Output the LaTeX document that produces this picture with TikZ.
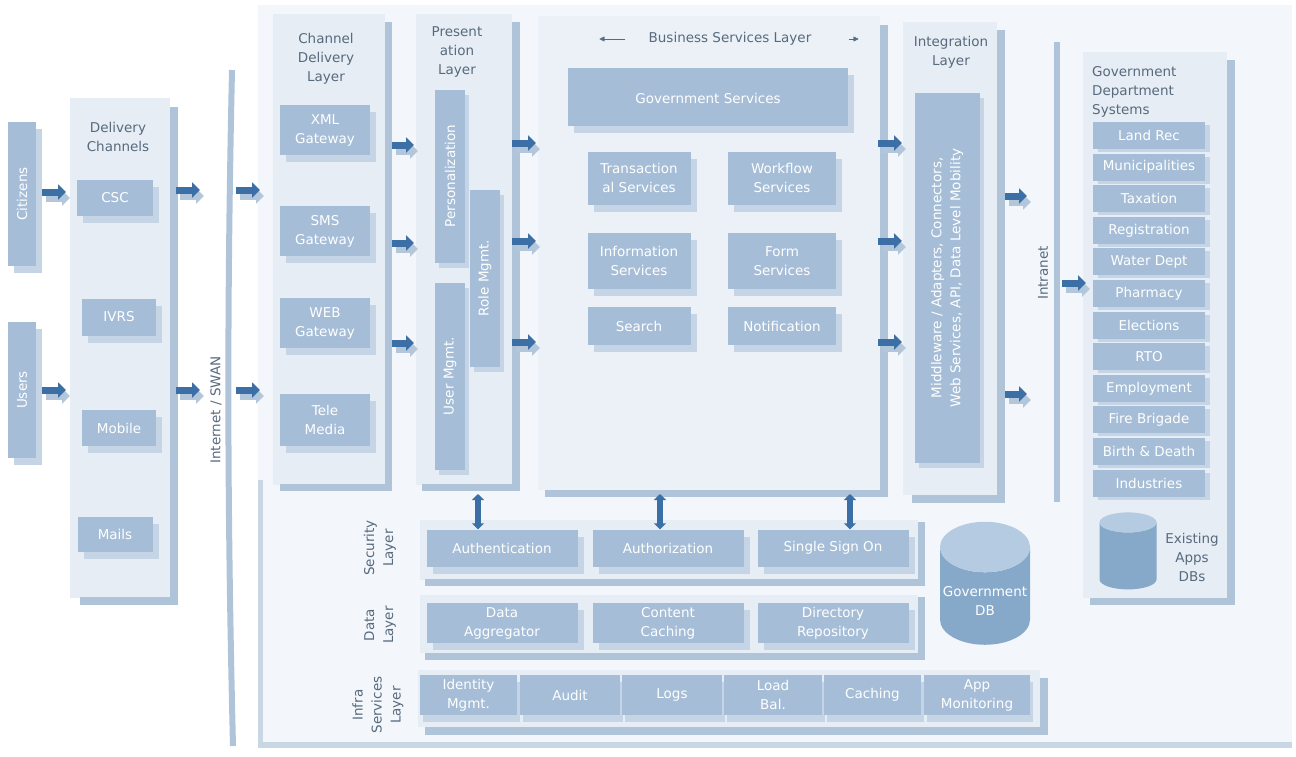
\documentclass[tikz,border=0pt]{standalone}
\usepackage{fontspec}
\setmainfont{DejaVu Sans}
\usetikzlibrary{shapes.geometric,shadows,arrows.meta}
\definecolor{bgc}{HTML}{F3F6FA}
\definecolor{panelc}{HTML}{E6EDF4}
\definecolor{bizc}{HTML}{EBF1F7}
\definecolor{stripc}{HTML}{B0C4D9}
\definecolor{boxc}{HTML}{A5BDD6}
\definecolor{shc}{HTML}{C5D5E5}
\definecolor{arrc}{HTML}{3C6FA5}
\definecolor{arrsh}{HTML}{B4C7DA}
\definecolor{txtc}{HTML}{586A7E}
\definecolor{linec}{HTML}{C9D7E5}
\definecolor{dbbody}{HTML}{86A8C9}
\definecolor{dbtop}{HTML}{B4CBE1}
\newcommand{\blkconn}[2]{\draw[blksh] (#1) -- (#2); \draw[blkarr] (#1) -- (#2);}
\begin{document}
\begin{tikzpicture}[x=1pt,y=-1pt,
  every node/.style={font=\fontsize{13.5}{19}\selectfont},
  boxbase/.style={fill=boxc, draw=none, text=white, align=center, inner sep=1pt},
  box/.style={boxbase, general shadow={shadow xshift=6pt, shadow yshift=-7pt, fill=shc}},
  sbox/.style={boxbase, general shadow={shadow xshift=4pt, shadow yshift=-5pt, fill=shc}},
  panel/.style={fill=panelc},
  strip/.style={fill=stripc},
  hdr/.style={text=txtc, align=center, inner sep=1pt},
  blkarr/.style={draw=arrc, line width=7pt, -{Triangle[width=15pt,length=8pt]}},
  blksh/.style={draw=arrsh, line width=7pt, -{Triangle[width=15pt,length=8pt]}, transform canvas={shift={(4pt,-6pt)}}},
  dblarr/.style={draw=arrc, line width=6pt, {Triangle[width=12pt,length=6pt]}-{Triangle[width=12pt,length=6pt]}},
  db/.style={cylinder, shape border rotate=90, aspect=0.3, draw=none, cylinder uses custom fill, cylinder body fill=dbbody, cylinder end fill=dbtop, text=white, align=center, inner sep=0pt},
]
\useasboundingbox (0,0) rectangle (1296,756);
\fill[white] (0,0) rectangle (1296,756);
% big background
\fill[bgc] (258,5) rectangle (1292,748);
\fill[linec] (258,480) rectangle (263,748);
\fill[linec] (258,742) rectangle (1292,748);

% ---------- left users ----------
\node[box, minimum width=28pt, minimum height=144pt] (cit) at (22,194) {\rotatebox{90}{Citizens}};
\node[box, minimum width=28pt, minimum height=136pt] (usr) at (22,390) {\rotatebox{90}{Users}};

% ---------- Delivery channels ----------
\fill[panel] (70,98) rectangle (170,598);
\fill[strip] (170,107) rectangle (178,605);
\fill[strip] (80,597) rectangle (178,605);
\node[hdr] (dch) at (118,137) {Delivery\\Channels};
\node[box, minimum width=76pt, minimum height=36pt] (csc) at (115,198) {CSC};
\node[box, minimum width=74pt, minimum height=37pt] (ivrs) at (119,317) {IVRS};
\node[box, minimum width=74pt, minimum height=36pt] (mob) at (119,428) {Mobile};
\node[box, minimum width=75pt, minimum height=35pt] (mail) at (115,534) {Mails};

% ---------- Internet ----------
\draw[stripc, line width=6pt] (232,70) .. controls (227,300) and (227,500) .. (233,746);
\node[hdr, rotate=90] (inet) at (216,410) {Internet / SWAN};

% ---------- Channel delivery layer ----------
\fill[panel] (273,14) rectangle (385,485);
\fill[strip] (385,22) rectangle (392,491);
\fill[strip] (280,484) rectangle (392,491);
\node[hdr] (cdl) at (326,59) {Channel\\Delivery\\Layer};
\node[box, minimum width=90pt, minimum height=50pt] (xml) at (325,130) {XML\\Gateway};
\node[box, minimum width=90pt, minimum height=50pt] (sms) at (325,231) {SMS\\Gateway};
\node[box, minimum width=90pt, minimum height=50pt] (web) at (325,323) {WEB\\Gateway};
\node[box, minimum width=90pt, minimum height=52pt] (tele) at (325,420) {Tele\\Media};

% ---------- Presentation layer ----------
\fill[panel] (416,14) rectangle (512,485);
\fill[strip] (512,22) rectangle (520,491);
\fill[strip] (422,484) rectangle (520,491);
\node[hdr] (prl) at (457,52) {Present\\ation\\Layer};
\node[sbox, minimum width=30pt, minimum height=173pt] (pers) at (450,176) {\rotatebox{90}{Personalization}};
\node[sbox, minimum width=30pt, minimum height=177pt] (role) at (485,278) {\rotatebox{90}{Role Mgmt.}};
\node[sbox, minimum width=30pt, minimum height=187pt] (user) at (450,376) {\rotatebox{90}{User Mgmt.}};

% ---------- Business services layer ----------
\fill[bizc] (538,16) rectangle (880,490);
\fill[strip] (880,25) rectangle (888,497);
\fill[strip] (545,490) rectangle (888,497);
\node[hdr] (bsl) at (730,39) {Business Services Layer};
\draw[txtc, -{Triangle[width=5pt,length=5pt]}] ([xshift=-22pt]bsl.west) -- ([xshift=-48pt]bsl.west);
\draw[txtc, -{Triangle[width=5pt,length=5pt]}] ([xshift=36pt]bsl.east) -- ([xshift=46pt]bsl.east);
\node[box, minimum width=280pt, minimum height=58pt, anchor=north, text height=12pt] (gsv) at (708,68) {Government Services};
\node[box, minimum width=103pt, minimum height=53pt] (trs) at (639,178) {Transaction\\al Services};
\node[box, minimum width=108pt, minimum height=53pt] (wfs) at (782,178) {Workflow\\Services};
\node[box, minimum width=103pt, minimum height=56pt] (inf) at (639,261) {Information\\Services};
\node[box, minimum width=108pt, minimum height=56pt] (frm) at (782,261) {Form\\Services};
\node[box, minimum width=103pt, minimum height=38pt] (srch) at (639,326) {Search};
\node[box, minimum width=108pt, minimum height=38pt] (ntf) at (782,326) {Notification};

% ---------- Integration layer ----------
\fill[panel] (903,22) rectangle (997,495);
\fill[strip] (997,30) rectangle (1005,503);
\fill[strip] (912,495) rectangle (1005,503);
\node[hdr] (intl) at (951,52) {Integration\\Layer};
\node[sbox, minimum width=65pt, minimum height=370pt] (mw) at (947,278) {\rotatebox{90}{\begin{tabular}{@{}c@{}}Middleware / Adapters, Connectors,\\Web Services, API, Data Level Mobility\end{tabular}}};

% ---------- Intranet ----------
\draw[stripc, line width=6pt] (1057,42) -- (1057,502);
\node[hdr, rotate=90] (intr) at (1043,273) {Intranet};

% ---------- Government department systems ----------
\fill[panel] (1083,52) rectangle (1227,598);
\fill[strip] (1227,60) rectangle (1235,605);
\fill[strip] (1090,598) rectangle (1235,605);
\node[hdr, anchor=west, align=left] (gds) at (1091,92) {Government\\Department\\Systems};
\foreach \t [count=\i] in {Land Rec,Municipalities,Taxation,Registration,Water Dept,Pharmacy,Elections,RTO,Employment,Fire Brigade,Birth \& Death,Industries}
  \node[boxbase, general shadow={shadow xshift=5pt, shadow yshift=-3pt, fill=shc}, minimum width=112pt, minimum height=27pt] (g\i) at (1149,{135.5+31.6*(\i-1)}) {\t};
\node[db, aspect=0.6, minimum width=57pt, minimum height=77pt] (eadb) at (1128,556) {\phantom{Apps}};
\node[hdr] (eatx) at (1192,557) {Existing\\Apps\\DBs};

% ---------- Security / Data / Infra ----------
\node[hdr, rotate=90] (secl) at (380,548) {Security\\Layer};
\fill[panel] (420,520) rectangle (918,580);
\fill[strip] (918,522) rectangle (925,586);
\fill[strip] (425,579) rectangle (925,586);
\node[box, minimum width=151pt, minimum height=37pt] (auth) at (502,548) {Authentication};
\node[box, minimum width=151pt, minimum height=37pt] (authz) at (668,548) {Authorization};
\node[box, minimum width=151pt, minimum height=37pt] (sso) at (833,548) {Single Sign On};

\node[hdr, rotate=90] (datl) at (380,625) {Data\\Layer};
\fill[panel] (420,595) rectangle (918,653);
\fill[strip] (918,597) rectangle (925,660);
\fill[strip] (425,653) rectangle (925,660);
\node[box, minimum width=151pt, minimum height=40pt] (dagg) at (502,623) {Data\\Aggregator};
\node[box, minimum width=151pt, minimum height=40pt] (cont) at (668,623) {Content\\Caching};
\node[box, minimum width=151pt, minimum height=40pt] (dirr) at (833,623) {Directory\\Repository};

\node[hdr, rotate=90] (infl) at (378,705) {Infra\\Services\\Layer};
\fill[panel] (418,670) rectangle (1040,727);
\fill[strip] (1040,678) rectangle (1048,735);
\fill[strip] (425,727) rectangle (1048,735);
\node[boxbase, general shadow={shadow xshift=3pt, shadow yshift=-7pt, fill=shc}, minimum width=97pt, minimum height=40pt] (i1) at (468.5,695) {Identity\\Mgmt.};
\node[boxbase, general shadow={shadow xshift=3pt, shadow yshift=-7pt, fill=shc}, minimum width=100pt, minimum height=40pt] (i2) at (570,695) {Audit};
\node[boxbase, general shadow={shadow xshift=3pt, shadow yshift=-7pt, fill=shc}, minimum width=100pt, minimum height=40pt] (i3) at (672,695) {Logs};
\node[boxbase, general shadow={shadow xshift=3pt, shadow yshift=-7pt, fill=shc}, minimum width=98pt, minimum height=40pt] (i4) at (773,695) {Load\\Bal.};
\node[boxbase, general shadow={shadow xshift=3pt, shadow yshift=-7pt, fill=shc}, minimum width=97pt, minimum height=40pt] (i5) at (872.5,695) {Caching};
\node[boxbase, general shadow={shadow xshift=3pt, shadow yshift=-7pt, fill=shc}, minimum width=106pt, minimum height=40pt] (i6) at (977,695) {App\\Monitoring};

% Government DB
\node[db, aspect=0.6, minimum width=90pt, minimum height=123pt] (gdb) at (985,596) {\\Government\\DB};

% ---------- block arrows ----------
\coordinate (c1a) at (42,192);  \coordinate (c1b) at (66,192);
\coordinate (c2a) at (42,390);  \coordinate (c2b) at (66,390);
\coordinate (d1a) at (176,190); \coordinate (d1b) at (200,190);
\coordinate (d2a) at (176,390); \coordinate (d2b) at (200,390);
\coordinate (e1a) at (236,190); \coordinate (e1b) at (260,190);
\coordinate (e2a) at (236,390); \coordinate (e2b) at (260,390);
\blkconn{c1a}{c1b} \blkconn{c2a}{c2b}
\blkconn{d1a}{d1b} \blkconn{d2a}{d2b}
\blkconn{e1a}{e1b} \blkconn{e2a}{e2b}
\foreach \y [count=\k] in {145,243,343} {
  \coordinate (f\k a) at (392,\y); \coordinate (f\k b) at (414,\y);
  \blkconn{f\k a}{f\k b}
}
\foreach \y [count=\k] in {143,241,342} {
  \coordinate (h\k a) at (512,\y); \coordinate (h\k b) at (536,\y);
  \blkconn{h\k a}{h\k b}
  \coordinate (j\k a) at (878,\y); \coordinate (j\k b) at (902,\y);
  \blkconn{j\k a}{j\k b}
}
\coordinate (k1a) at (1005,196); \coordinate (k1b) at (1027,196);
\coordinate (k2a) at (1005,394); \coordinate (k2b) at (1027,394);
\blkconn{k1a}{k1b} \blkconn{k2a}{k2b}
\coordinate (m1a) at (1062,283); \coordinate (m1b) at (1086,283);
\blkconn{m1a}{m1b}

% vertical double arrows
\draw[dblarr] (478,494) -- (auth.north -| 478,0);
\draw[dblarr] (660,494) -- (authz.north -| 660,0);
\draw[dblarr] (850,494) -- (sso.north -| 850,0);
\end{tikzpicture}
\end{document}
